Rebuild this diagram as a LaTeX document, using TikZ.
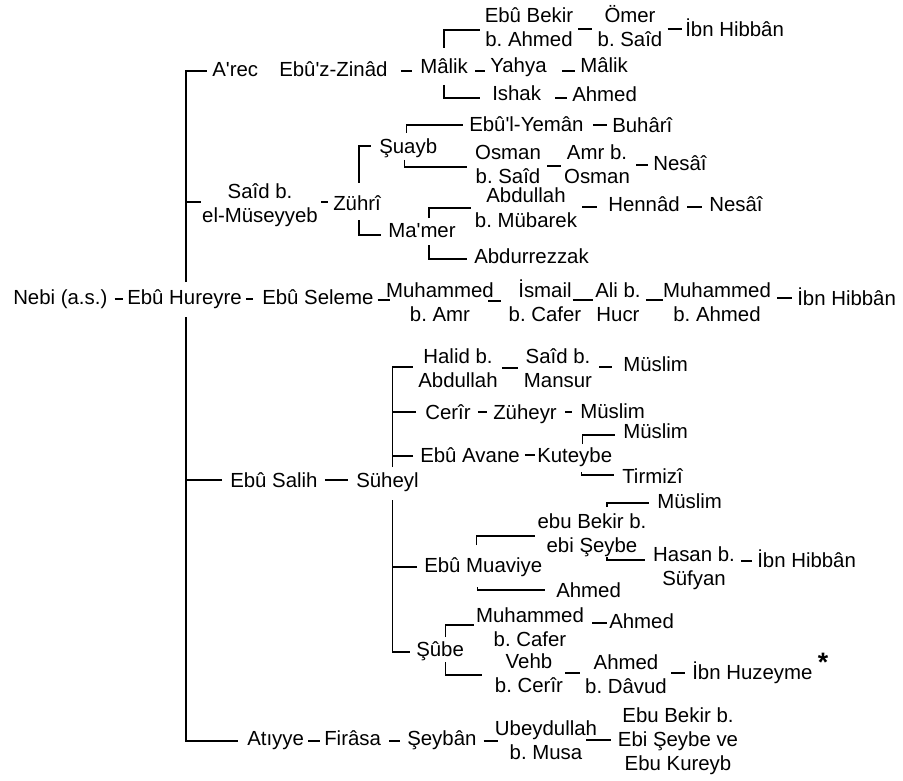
\documentclass[tikz,border=0pt]{standalone}
\usepackage{fontspec}
\setmainfont{Liberation Sans}[Ligatures=TeXOff]
\usetikzlibrary{calc}
\frenchspacing
\newcommand\tl[2]{\begin{tabular}[t]{@{}c@{}}#1\\#2\end{tabular}}
\newcommand\thl[3]{\begin{tabular}[t]{@{}c@{}}#1\\#2\\#3\end{tabular}}
% dash between two nodes: from, to, left gap, right gap, vertical offset from baseline of "from"
\newcommand\lnk[5]{\path ($(#1.base east)+(#3,#5)$) coordinate (lA);
  \path (lA -| #2.base west) coordinate (lB);
  \draw[link] (lA) -- ($(lB)-(#4,0)$);}
% branch from a point to a trunk coordinate (horizontal)
\newcommand\branch[2]{\path (#1) coordinate (bA); \draw[link] (bA) -- (bA -| #2);}
\tikzset{
  txt/.style={inner sep=0pt, font=\fontsize{15.3}{18}\selectfont\frenchspacing},
  nw/.style={txt, anchor=base west},
  nc/.style={txt, anchor=base},
  link/.style={line width=1pt, black},
}
\begin{document}
\begin{tikzpicture}[x=0.75pt,y=-0.75pt]
\fill[white] (0,0) rectangle (903,781);
\useasboundingbox (0,0) rectangle (903,781);

% ---- nodes ----
\node[nw] (arec) at (212,77) {A'rec};
\node[nw] (zinad) at (279,77) {Ebû'z-Zinâd};
\node[nw] (malik) at (420,74) {Mâlik};
\node[nc] (bekirA) at (529,23) {\tl{Ebû Bekir}{b. Ahmed}};
\node[nc] (omer) at (630,23) {\tl{Ömer}{b. Saîd}};
\node[nw] (hibbanA) at (685,37) {İbn Hibbân};
\node[nw] (yahya) at (490,73) {Yahya};
\node[nw] (malikB) at (580,73) {Mâlik};
\node[nw] (ishak) at (492,101) {Ishak};
\node[nw] (ahmedA) at (572,102) {Ahmed};
\node[nc] (said) at (260,199) {\tl{Saîd b.}{el-Müseyyeb}};
\node[nw] (zuhri) at (333,210) {Zührî};
\node[nw] (suayb) at (379,154) {Şuayb};
\node[nw] (mamer) at (388,237) {Ma'mer};
\node[nw] (yemani) at (469,132) {Ebû'l-Yemân};
\node[nw] (buhari) at (612,133) {Buhârî};
\node[nc] (osman) at (508,160) {\tl{Osman}{b. Saîd}};
\node[nc] (amr) at (597,160) {\tl{Amr b.}{Osman}};
\node[nw] (nesaiA) at (653,171) {Nesâî};
\node[nc] (abdullah) at (526,203) {\tl{Abdullah}{b. Mübarek}};
\node[nw] (hennad) at (608,212) {Hennâd};
\node[nw] (nesaiB) at (709,212) {Nesâî};
\node[nw] (rezzak) at (474,263) {Abdurrezzak};
\node[nw] (nebi) at (13,304) {Nebi (a.s.)};
\node[nw] (hureyre) at (127,304) {Ebû Hureyre};
\node[nw] (seleme) at (262,304) {Ebû Seleme};
\node[nc] (muhA) at (440,297) {\tl{Muhammed}{b. Amr}};
\node[nc] (ismail) at (545,297) {\tl{İsmail}{b. Cafer}};
\node[nc] (ali) at (618,297) {\tl{Ali b.}{Hucr}};
\node[nc] (muhB) at (717,297) {\tl{Muhammed}{b. Ahmed}};
\node[nw] (hibbanB) at (797,305) {İbn Hibbân};
\node[nc] (halid) at (458,363) {\tl{Halid b.}{Abdullah}};
\node[nc] (saidb) at (558,363) {\tl{Saîd b.}{Mansur}};
\node[nw] (muslimA) at (623,371) {Müslim};
\node[nw] (cerir) at (425,419) {Cerîr};
\node[nw] (zuheyr) at (493,419) {Züheyr};
\node[nw] (muslimB) at (580,418) {Müslim};
\node[nw] (avane) at (420,462) {Ebû Avane};
\node[nw] (kuteybe) at (537,462) {Kuteybe};
\node[nw] (muslimC) at (623,438) {Müslim};
\node[nw] (tirmizi) at (622,483) {Tirmizî};
\node[nw] (salih) at (230,487) {Ebû Salih};
\node[nw] (suheyl) at (356,487) {Süheyl};
\node[nw] (muaviye) at (424,572) {Ebû Muaviye};
\node[nc] (bekirB) at (592,528) {\tl{ebu Bekir b.}{ebi Şeybe}};
\node[nw] (ahmedB) at (556,597) {Ahmed};
\node[nw] (muslimD) at (657,508) {Müslim};
\node[nc] (hasan) at (694,561) {\tl{Hasan b.}{Süfyan}};
\node[nw] (hibbanC) at (757,567) {İbn Hibbân};
\node[nw] (sube) at (416,656) {Şûbe};
\node[nc] (muhC) at (530,622) {\tl{Muhammed}{b. Cafer}};
\node[nw] (ahmedC) at (609,628) {Ahmed};
\node[nc] (vehb) at (529,668) {\tl{Vehb}{b. Cerîr}};
\node[nc] (ahmedD) at (626,669) {\tl{Ahmed}{b. Dâvud}};
\node[nw] (huzeyme) at (692,679) {İbn Huzeyme};
\node[inner sep=0pt, font=\fontsize{20}{20}\selectfont\bfseries] (star) at (823,662) {*};
\node[nw] (atiyye) at (247,745) {Atıyye};
\node[nw] (firasa) at (324,745) {Firâsa};
\node[nw] (seyban) at (407,745) {Şeybân};
\node[nc] (ubeyd) at (546,735) {\tl{Ubeydullah}{b. Musa}};
\node[nc] (bekirC) at (678,722) {\thl{Ebu Bekir b.}{Ebi Şeybe ve}{Ebu Kureyb}};

% ---- dashes ----
\lnk{zinad}{malik}{13}{8}{-6}
\lnk{malik}{yahya}{7}{5}{-3}
\lnk{yahya}{malikB}{15}{5}{-2}
\lnk{ishak}{ahmedA}{14}{5}{-3}
\lnk{bekirA}{omer}{5}{5}{6}
\lnk{omer}{hibbanA}{5}{3}{6}
\lnk{said}{zuhri}{3}{5}{3}
\lnk{yemani}{buhari}{9}{5}{-7}
\lnk{osman}{amr}{6}{3}{6}
\lnk{amr}{nesaiA}{6}{5}{5}
\lnk{abdullah}{hennad}{5}{11}{4}
\lnk{hennad}{nesaiB}{7}{7}{-5}
\lnk{nebi}{hureyre}{7}{4}{-5}
\lnk{hureyre}{seleme}{4}{9}{-5}
\lnk{seleme}{muhA}{4}{-4}{-4}
\lnk{muhA}{ismail}{-6}{7}{4}
\lnk{ismail}{ali}{-9}{2}{3}
\lnk{ali}{muhB}{5}{0}{3}
\lnk{muhB}{hibbanB}{6}{5}{1}
\lnk{halid}{saidb}{4}{6}{5}
\lnk{saidb}{muslimA}{7}{11}{4}
\lnk{cerir}{zuheyr}{7}{6}{-7}
\lnk{zuheyr}{muslimB}{8}{8}{-7}
\lnk{avane}{kuteybe}{5}{2}{-7}
\lnk{salih}{suheyl}{7}{8}{-7}
\lnk{muhC}{ahmedC}{8}{2}{1}
\lnk{vehb}{ahmedD}{2}{5}{5}
\lnk{ahmedD}{huzeyme}{4}{7}{4}
\lnk{hasan}{hibbanC}{6}{5}{0}
\lnk{atiyye}{firasa}{4}{4}{-4}
\lnk{firasa}{seyban}{8}{7}{-4}
\lnk{seyban}{ubeyd}{7}{-3}{-4}
\lnk{ubeyd}{bekirC}{-11}{7}{5}

% ---- brackets ----
\draw[link] ($(hureyre.base)+(1.5,-22)$) |- ($(arec.base west)+(-5,-6)$);
\draw[link] ($(hureyre.base)+(1.5,13)$) |- ($(atiyye.base west)+(-9,-4)$);
\coordinate (trunk) at ($(hureyre.base)+(1.5,0)$);
\branch{$(said.base west)+(-1,3)$}{trunk}
\branch{$(salih.base west)+(-8,-7)$}{trunk}

\draw[link] ($(malik.base)+(0,-26)$) |- ($(bekirA.base west)+(-5,7)$);
\draw[link] ($(malik.base)+(0,11)$) |- ($(ishak.base west)+(-12,-3)$);

\draw[link] ($(zuhri.base)+(2,-27)$) |- ($(suayb.base west)+(-8,-8)$);
\draw[link] ($(zuhri.base)+(2,10)$) |- ($(mamer.base west)+(-7,-2)$);

\draw[link] ($(suayb.base)+(-1.5,-21)$) |- ($(yemani.base west)+(-6,-7)$);
\draw[link] ($(suayb.base)+(-3.5,6)$) |- ($(osman.base west)+(-8,7)$);

\draw[link] ($(mamer.base)+(7,-19)$) |- ($(abdullah.base west)+(-4,5)$);
\draw[link] ($(mamer.base)+(7,8)$) |- ($(rezzak.base west)+(-7,-4)$);

\draw[link] ($(suheyl.base)+(5,-20)$) |- ($(halid.base west)+(-5,4)$);
\draw[link] ($(suheyl.base)+(5,13)$) |- ($(sube.base west)+(-6,-4)$);
\coordinate (sv) at ($(suheyl.base)+(5,0)$);
\branch{$(cerir.base west)+(-9,-7)$}{sv}
\branch{$(avane.base west)+(-7,-6)$}{sv}
\branch{$(muaviye.base west)+(-7,-5)$}{sv}

\draw[link] ($(kuteybe.base)+(8,-18)$) |- ($(muslimC.base west)+(-8,-3)$);
\draw[link] ($(kuteybe.base)+(6.5,10)$) |- ($(tirmizi.base west)+(-8,-8)$);

\draw[link] ($(muaviye.base)+(-6.5,-27)$) |- ($(bekirB.base west)+(-2,8)$);
\draw[link] ($(muaviye.base)+(-5.5,15)$) |- ($(ahmedB.base west)+(-11,-7)$);

\draw[link] ($(bekirB.base)+(15,-21)$) |- ($(muslimD.base west)+(-8,-5)$);
\draw[link] ($(bekirB.base)+(15,29)$) |- ($(hasan.base west)+(-8,-1)$);

\draw[link] ($(sube.base)+(5.5,-19)$) |- ($(muhC.base west)+(-2,3)$);
\draw[link] ($(sube.base)+(5.5,6)$) |- ($(vehb.base west)+(-13,7)$);
\end{tikzpicture}
\end{document}
